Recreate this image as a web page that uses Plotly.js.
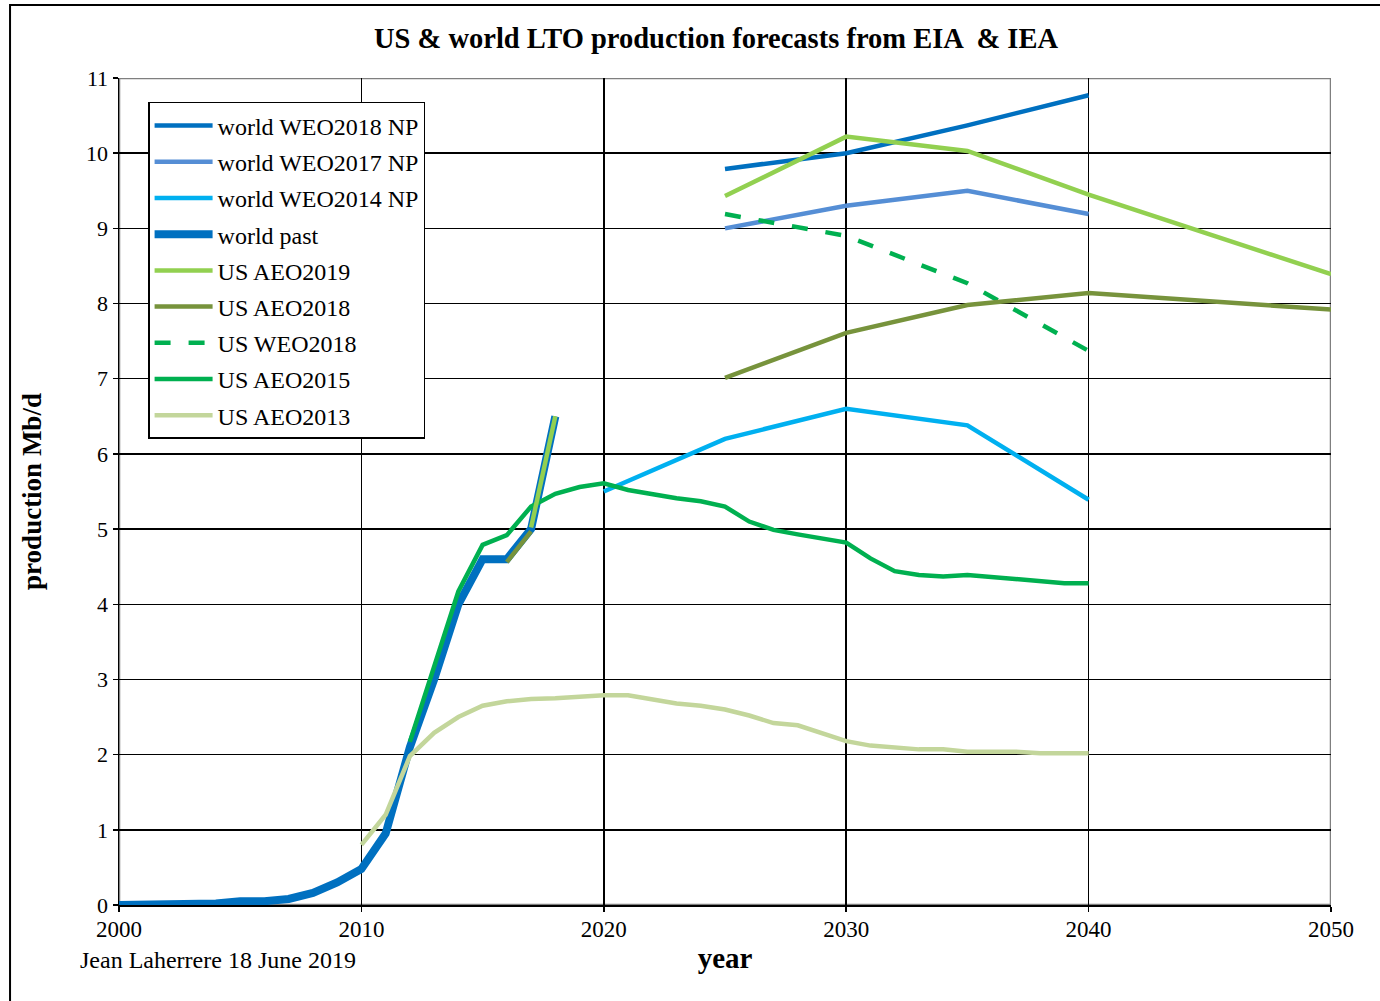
<!DOCTYPE html>
<html>
<head>
<meta charset="utf-8">
<script src="https://cdn.plot.ly/plotly-3.0.1.min.js"></script>
<style>
html,body{margin:0;padding:0;background:#fff;}
#chart{width:1380px;height:1001px;}
</style>
</head>
<body>
<div id="chart"></div>
<script>
// ---- data (Mb/d) ----
const pastYears = [2000,2001,2002,2003,2004,2005,2006,2007,2008,2009,2010,2011,2012,2013,2014,2015,2016,2017,2018];
const worldPast = [0,0,0,0,0.02,0.05,0.05,0.08,0.16,0.3,0.48,0.95,2.1,3.0,4.0,4.6,4.6,5.0,6.5];

const weo2018Years = [2025,2030,2035,2040];
const worldWEO2018NP = [9.79,10.0,10.37,10.77];

const weo2017Years = [2025,2030,2035,2040];
const worldWEO2017NP = [9.0,9.3,9.5,9.19];

const weo2014Years = [2020,2025,2030,2035,2040];
const worldWEO2014NP = [5.5,6.2,6.6,6.38,5.39];

const aeo2019Years = [2017,2018,2019,2025,2030,2035,2040,2050];
const usAEO2019 = [5.02,6.5,null,9.43,10.22,10.03,9.45,8.39];

const aeo2018Years = [2016,2017,2018,2025,2030,2035,2040,2050];
const usAEO2018 = [4.56,4.97,null,7.01,7.61,7.98,8.14,7.92];

const usWeo2018Years = [2025,2030,2035,2040];
const usWEO2018 = [9.19,8.9,8.27,7.37];

const aeo2015Years = [2012,2013,2014,2015,2016,2017,2018,2019,2020,2021,2022,2023,2024,2025,2026,2027,2028,2029,2030,2031,2032,2033,2034,2035,2036,2037,2038,2039,2040];
const usAEO2015 = [2.17,3.17,4.17,4.79,4.92,5.3,5.47,5.56,5.61,5.52,5.46,5.41,5.37,5.3,5.1,4.99,4.93,4.88,4.82,4.61,4.44,4.39,4.37,4.39,4.36,4.34,4.31,4.28,4.28];

const aeo2013Years = [2010,2011,2012,2013,2014,2015,2016,2017,2018,2019,2020,2021,2022,2023,2024,2025,2026,2027,2028,2029,2030,2031,2032,2033,2034,2035,2036,2037,2038,2039,2040];
const usAEO2013 = [0.8,1.2,1.98,2.29,2.5,2.65,2.71,2.74,2.75,2.77,2.79,2.79,2.74,2.68,2.65,2.6,2.52,2.42,2.39,2.28,2.18,2.12,2.1,2.07,2.07,2.04,2.04,2.04,2.02,2.02,2.02];

const xTicks = [2000,2010,2020,2030,2040,2050];
const yTicks = [0,1,2,3,4,5,6,7,8,9,10,11];

const serif = '"Liberation Serif","Times New Roman",serif';

function tr(name, x, y, color, width, rank, dash) {
  return {
    type: 'scatter', mode: 'lines', name: name, x: x, y: y,
    connectgaps: false,
    line: {color: color, width: width, dash: dash || 'solid'},
    legendrank: rank, legendgroup: 'g' + rank,
    hoverinfo: 'x+y+name'
  };
}

const traces = [
  tr('world past', pastYears, worldPast, '#0070C0', 8, 4),
  tr('world WEO2018 NP', weo2018Years, worldWEO2018NP, '#0070C0', 4.5, 1),
  tr('world WEO2017 NP', weo2017Years, worldWEO2017NP, '#558ED5', 4.5, 2),
  tr('world WEO2014 NP', weo2014Years, worldWEO2014NP, '#00B0F0', 4.5, 3),
  tr('US AEO2013', aeo2013Years, usAEO2013, '#C3D69B', 4.5, 9),
  tr('US AEO2015', aeo2015Years, usAEO2015, '#00B050', 4.5, 8),
  tr('US WEO2018', usWeo2018Years, usWEO2018, '#00B050', 4.5, 7, '16px,18px'),
  tr('US AEO2018', aeo2018Years, usAEO2018, '#77933C', 4.5, 6),
  tr('US AEO2019', aeo2019Years, usAEO2019, '#92D050', 4.5, 5)
];

const layout = {
  width: 1380, height: 1001,
  margin: {l: 119, r: 49, t: 78, b: 96, pad: 0},
  paper_bgcolor: '#ffffff', plot_bgcolor: '#ffffff',
  font: {family: serif, color: '#000', size: 23},
  title: {
    text: '<b>US &amp; world LTO production forecasts from EIA  &amp; IEA</b>',
    font: {family: serif, size: 28.5, color: '#000'},
    x: 0.4926, xref: 'paper', xanchor: 'center',
    y: 0.962, yref: 'container', yanchor: 'middle'
  },
  xaxis: {
    range: [2000, 2050], tickvals: xTicks, ticktext: xTicks.map(String),
    showgrid: true, gridcolor: '#000', gridwidth: 1.5,
    showline: true, linecolor: '#000', linewidth: 1.5,
    ticks: 'outside', ticklen: 5, tickcolor: '#000', tickwidth: 1.5,
    ticklabelstandoff: -2,
    zeroline: false, tickfont: {family: serif, size: 23, color: '#000'},
    title: {text: '<b>year</b>', font: {family: serif, size: 29, color: '#000'}, standoff: 6}
  },
  yaxis: {
    range: [0, 11], tickvals: yTicks, ticktext: yTicks.map(String),
    showgrid: true, gridcolor: '#000', gridwidth: 1.5,
    showline: true, linecolor: '#000', linewidth: 1.5,
    ticks: 'outside', ticklen: 5, tickcolor: '#000', tickwidth: 1.5,
    zeroline: false, tickfont: {family: serif, size: 22, color: '#000'},
    title: {text: '<b>production Mb/d</b>', font: {family: serif, size: 27, color: '#000'}, standoff: 36}
  },
  showlegend: true,
  legend: {
    x: 0.024, y: 0.971, xanchor: 'left', yanchor: 'top',
    bgcolor: '#ffffff', bordercolor: '#000', borderwidth: 1.5,
    font: {family: serif, size: 24, color: '#000'},
    traceorder: 'grouped', tracegroupgap: 2, itemwidth: 58
  },
  shapes: [
    {type: 'rect', xref: 'x', yref: 'y', x0: 2000, x1: 2050, y0: 0, y1: 11,
     line: {color: '#7f7f7f', width: 2.5}, fillcolor: 'rgba(0,0,0,0)', layer: 'below'},
    {type: 'rect', xref: 'paper', yref: 'paper', x0: -0.0899, x1: 1.2, y0: -0.3, y1: 1.0883,
     line: {color: '#000', width: 2}, fillcolor: 'rgba(0,0,0,0)', layer: 'below'}
  ],
  annotations: [
    {text: 'Jean Laherrere 18 June 2019', xref: 'paper', yref: 'paper',
     x: -0.0338, y: -0.067, xanchor: 'left', yanchor: 'middle', showarrow: false,
     font: {family: serif, size: 24, color: '#000'}}
  ]
};

Plotly.newPlot('chart', traces, layout, {displayModeBar: false, staticPlot: true});
</script>
</body>
</html>
